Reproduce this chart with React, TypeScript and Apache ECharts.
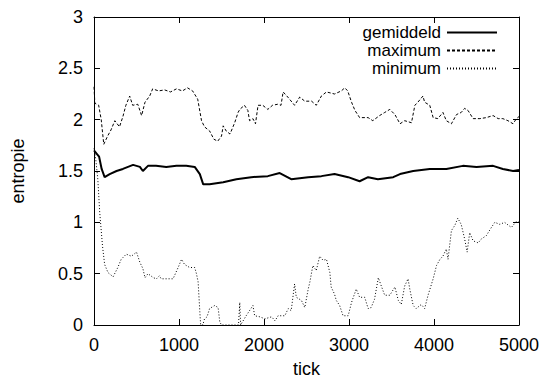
import React, { useEffect, useRef } from "react";
import * as echarts from "echarts";

const xTicks = [0, 1000, 2000, 3000, 4000, 5000];
const yTicks = [0, 0.5, 1, 1.5, 2, 2.5, 3];
const seriesNames = ["gemiddeld", "maximum", "minimum"];

const gemiddeld: [number, number][] = [
  [0, 1.70], [30, 1.67], [60, 1.64], [90, 1.52], [125, 1.44], [185, 1.47], [265, 1.50],
  [340, 1.52], [400, 1.54], [460, 1.56], [540, 1.54], [575, 1.50], [635, 1.55], [730, 1.55],
  [850, 1.54], [970, 1.55], [1085, 1.55], [1185, 1.54], [1245, 1.47], [1285, 1.37],
  [1360, 1.37], [1520, 1.39], [1675, 1.42], [1850, 1.44], [2045, 1.45], [2185, 1.48],
  [2320, 1.42], [2520, 1.44], [2675, 1.45], [2830, 1.47], [2990, 1.44], [3125, 1.40],
  [3225, 1.44], [3340, 1.42], [3520, 1.44], [3600, 1.47], [3755, 1.50], [3950, 1.52],
  [4145, 1.52], [4340, 1.55], [4500, 1.54], [4695, 1.55], [4810, 1.52], [4930, 1.50], [5000, 1.51],
];

const maximum: [number, number][] = [
  [0, 2.32], [10, 2.16], [55, 2.14], [85, 2.00], [115, 1.76], [160, 1.84], [200, 1.90],
  [245, 1.99], [300, 1.93], [340, 2.03], [375, 2.14], [420, 2.23], [455, 2.14], [515, 2.15],
  [560, 2.04], [600, 2.17], [655, 2.23], [690, 2.30], [760, 2.28], [830, 2.29], [900, 2.27],
  [970, 2.30], [1040, 2.28], [1100, 2.31], [1160, 2.28], [1220, 2.20], [1265, 1.99],
  [1300, 1.93], [1360, 1.89], [1410, 1.81], [1455, 1.79], [1500, 1.84], [1520, 1.94],
  [1555, 1.89], [1600, 1.86], [1635, 1.93], [1655, 1.97], [1695, 2.07], [1715, 2.10],
  [1770, 2.14], [1810, 2.09], [1830, 1.99], [1870, 2.01], [1900, 1.96], [1930, 2.14],
  [1985, 2.14], [2045, 2.10], [2100, 2.14], [2160, 2.15], [2200, 2.14], [2225, 2.27],
  [2280, 2.22], [2360, 2.14], [2420, 2.22], [2480, 2.18], [2560, 2.18], [2615, 2.14],
  [2675, 2.23], [2735, 2.27], [2830, 2.25], [2910, 2.28], [2950, 2.31], [2985, 2.28],
  [3030, 2.17], [3070, 2.09], [3125, 2.02], [3225, 2.02], [3280, 1.99], [3360, 2.04],
  [3420, 2.07], [3480, 2.10], [3540, 2.05], [3600, 1.96], [3655, 1.99], [3735, 1.97],
  [3775, 2.14], [3810, 2.17], [3870, 2.23], [3890, 2.17], [3950, 2.14], [3990, 2.02],
  [4045, 2.01], [4105, 2.07], [4145, 1.99], [4205, 1.96], [4265, 2.05], [4320, 2.07],
  [4360, 2.11], [4400, 2.09], [4460, 2.01], [4540, 2.01], [4615, 2.02], [4695, 2.04],
  [4755, 2.01], [4810, 2.01], [4870, 1.99], [4930, 1.96], [4970, 2.01], [5000, 2.03],
];

const minimum: [number, number][] = [
  [0, 1.72], [20, 1.62], [45, 1.42], [67, 1.10], [100, 0.77], [125, 0.59], [165, 0.51],
  [225, 0.47], [280, 0.56], [320, 0.64], [380, 0.69], [440, 0.67], [500, 0.71], [540, 0.61],
  [575, 0.55], [600, 0.46], [635, 0.50], [700, 0.46], [735, 0.45], [770, 0.48], [790, 0.45],
  [860, 0.45], [930, 0.45], [990, 0.56], [1030, 0.64], [1065, 0.59], [1125, 0.56],
  [1185, 0.56], [1205, 0.50], [1225, 0.42], [1245, 0.13], [1255, 0.0], [1280, 0.0],
  [1300, 0.06], [1330, 0.08], [1360, 0.16], [1420, 0.19], [1460, 0.17], [1480, 0.03],
  [1500, 0.0], [1700, 0.0], [1715, 0.22], [1725, 0.0], [1790, 0.09], [1870, 0.19],
  [1890, 0.09], [1950, 0.08], [2010, 0.06], [2090, 0.08], [2130, 0.04], [2165, 0.09],
  [2245, 0.09], [2285, 0.16], [2320, 0.14], [2360, 0.40], [2380, 0.27], [2440, 0.24],
  [2480, 0.17], [2520, 0.35], [2540, 0.42], [2575, 0.58], [2615, 0.53], [2655, 0.67],
  [2695, 0.63], [2735, 0.64], [2775, 0.51], [2790, 0.37], [2830, 0.30], [2850, 0.24],
  [2890, 0.19], [2930, 0.09], [2990, 0.09], [3030, 0.22], [3085, 0.35], [3125, 0.27],
  [3185, 0.27], [3225, 0.16], [3260, 0.17], [3300, 0.25], [3345, 0.46], [3380, 0.38],
  [3420, 0.29], [3480, 0.29], [3540, 0.37], [3580, 0.24], [3615, 0.20], [3655, 0.38],
  [3695, 0.45], [3715, 0.35], [3755, 0.19], [3790, 0.16], [3850, 0.20], [3890, 0.16],
  [3930, 0.29], [3990, 0.45], [4030, 0.58], [4070, 0.64], [4105, 0.67], [4145, 0.74],
  [4165, 0.64], [4205, 0.92], [4245, 0.97], [4280, 1.04], [4320, 0.98], [4360, 0.84],
  [4390, 0.71], [4420, 0.90], [4460, 0.82], [4520, 0.80], [4560, 0.84], [4615, 0.87],
  [4675, 0.95], [4715, 1.00], [4775, 0.98], [4830, 1.00], [4910, 0.95], [4970, 1.01], [5000, 1.00],
];

const FONT = "'Liberation Sans', Arial, Helvetica, sans-serif";
const FS = 18;

export default function App() {
  const ref = useRef<HTMLDivElement>(null);
  useEffect(() => {
    document.body.style.margin = "0";
    if (!ref.current) return;
    const chart = echarts.init(ref.current, undefined, { renderer: "svg" });
    const axisLine = { show: true, onZero: false, lineStyle: { color: "#000", width: 1 } };
    const tickIn = { show: true, inside: true, length: 6, lineStyle: { color: "#000", width: 1 } };
    const xMin = xTicks[0];
    const xMax = xTicks[xTicks.length - 1];
    const xInt = xTicks[1] - xTicks[0];
    const yMin = yTicks[0];
    const yMax = yTicks[yTicks.length - 1];
    const yInt = yTicks[1] - yTicks[0];
    const plain = (v: number) => String(v);
    chart.setOption({
      animation: false,
      backgroundColor: "#fff",
      grid: { left: 94, right: 24, top: 17, bottom: 54, containLabel: false, outerBoundsMode: "none" },
      legend: {
        orient: "vertical",
        right: 45,
        top: 24,
        padding: 0,
        align: "right",
        itemWidth: 50,
        itemHeight: 16,
        itemGap: 1,
        data: seriesNames,
        itemStyle: { color: "transparent", borderColor: "transparent", borderWidth: 0, opacity: 0 },
        textStyle: { fontFamily: FONT, fontSize: 17, color: "#000", lineHeight: 16, padding: [0, 1, 0, 0] },
      },
      xAxis: [
        {
          type: "value", min: xMin, max: xMax, interval: xInt, position: "bottom",
          axisLine, axisTick: tickIn, splitLine: { show: false },
          axisLabel: { fontFamily: FONT, fontSize: FS, color: "#000", margin: 11, formatter: plain },
          name: "tick", nameLocation: "middle", nameGap: 35,
          nameTextStyle: { fontFamily: FONT, fontSize: FS, color: "#000" },
        },
        {
          type: "value", min: xMin, max: xMax, interval: xInt, position: "top",
          axisLine, axisTick: tickIn, splitLine: { show: false }, axisLabel: { show: false },
        },
      ],
      yAxis: [
        {
          type: "value", min: yMin, max: yMax, interval: yInt, position: "left",
          axisLine, axisTick: tickIn, splitLine: { show: false },
          axisLabel: { fontFamily: FONT, fontSize: FS, color: "#000", margin: 11, formatter: plain },
          name: "entropie", nameLocation: "middle", nameGap: 67, nameRotate: 90,
          nameTextStyle: { fontFamily: FONT, fontSize: FS, color: "#000" },
        },
        {
          type: "value", min: yMin, max: yMax, interval: yInt, position: "right",
          axisLine, axisTick: tickIn, splitLine: { show: false }, axisLabel: { show: false },
        },
      ],
      series: [
        {
          name: seriesNames[0], type: "line", data: gemiddeld, symbol: "none", showSymbol: false,
          xAxisIndex: 0, yAxisIndex: 0,
          lineStyle: { color: "#000", width: 2, type: "solid" },
          itemStyle: { color: "#000" },
        },
        {
          name: seriesNames[1], type: "line", data: maximum, symbol: "none", showSymbol: false,
          xAxisIndex: 0, yAxisIndex: 0,
          lineStyle: { color: "#000", width: 1, type: [3, 2] },
          itemStyle: { color: "#000" },
        },
        {
          name: seriesNames[2], type: "line", data: minimum, symbol: "none", showSymbol: false,
          xAxisIndex: 0, yAxisIndex: 0,
          lineStyle: { color: "#000", width: 1, type: [1, 2] },
          itemStyle: { color: "#000" },
        },
      ],
    });
    return () => chart.dispose();
  }, []);
  return <div ref={ref} style={{ width: 543, height: 379 }} />;
}
